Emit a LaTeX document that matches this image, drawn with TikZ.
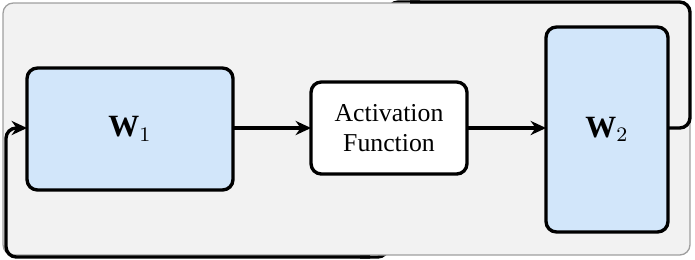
\documentclass[tikz,border=0pt]{standalone}
\usepackage{fontspec}
\setmainfont{Liberation Serif}
\usetikzlibrary{arrows.meta}
\definecolor{wblue}{RGB}{210,230,250}
\definecolor{panelgray}{RGB}{242,242,242}

\begin{document}
\begin{tikzpicture}[x=0.388pt, y=-0.388pt,
    block/.style={draw, line width=1.3pt, rounded corners=4pt, inner sep=0pt, outer sep=0pt, align=center},
    flow/.style={line width=1.3pt, -{Stealth[length=6pt, width=5.5pt]}},
    fback/.style={line width=1.3pt, rounded corners=4pt}]

    \useasboundingbox (0,0) rectangle (695,259);

    % Coins de la boucle de retour
    \coordinate (topright) at (690,2);
    \coordinate (topmid) at (388,2);
    \coordinate (botmid) at (388,257);
    \coordinate (botleft) at (6,257);

    % Partie cachée de la boucle (sous le panneau)
    \draw[fback] (420,2) -- (topmid) -- (388,60);
    \draw[fback] (388,200) -- (botmid) -- (360,257);

    % Panneau gris
    \draw[gray!75, fill=panelgray, line width=0.5pt, rounded corners=4pt] (3,3) rectangle (690,255);

    % Blocs
    \node[block, fill=wblue, minimum width=79.9pt, minimum height=47.3pt] (w1) at (130,129) {\large $\mathbf{W}_1$};
    \node[block, fill=white, minimum width=60.5pt, minimum height=35.7pt, font=\fontsize{10}{11.5}\selectfont] (act) at (389,128) {Activation\\Function};
    \node[block, fill=wblue, minimum width=47.3pt, minimum height=79.5pt] (w2) at (607,129.5) {\large $\mathbf{W}_2$};

    % Flèches
    \draw[flow] (w1.east |- act.west) -- (act.west);
    \draw[flow] (act.east) -- (w2.west |- act.east);

    % Boucle de retour (parties visibles)
    \draw[fback] (w2.east |- act.east) -- (690,128) -- (topright) -- (410,2);
    \draw[fback, -{Stealth[length=6pt, width=5.5pt]}] (370,257) -- (botleft) -- (6,128) -- (w1.west |- act.west);

\end{tikzpicture}
\end{document}
